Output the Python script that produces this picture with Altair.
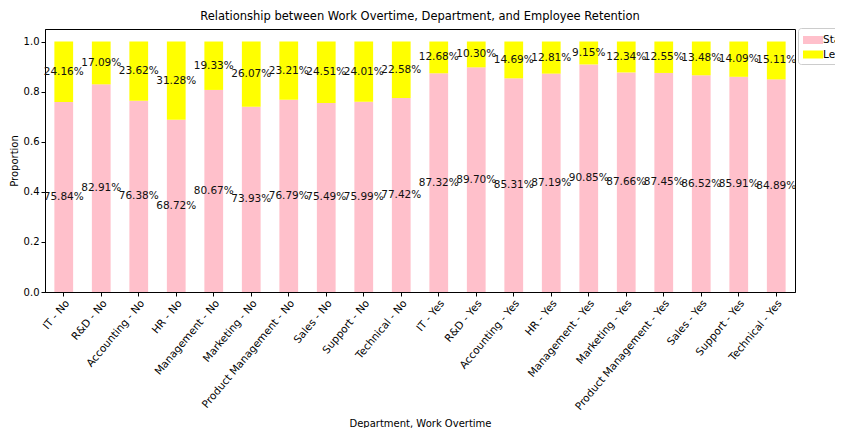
import altair as alt
import pandas as pd

departments = ["IT", "R&D", "Accounting", "HR", "Management", "Marketing",
               "Product Management", "Sales", "Support", "Technical"]
overtime = ["No", "Yes"]
statuses = ["Stayed", "Left"]
colors = ["#FFC0CB", "#FFFF00"]

# percentages, order: all "No" departments then all "Yes" departments
stayed = [75.84, 82.91, 76.38, 68.72, 80.67, 73.93, 76.79, 75.49, 75.99, 77.42,
          87.32, 89.70, 85.31, 87.19, 90.85, 87.66, 87.45, 86.52, 85.91, 84.89]
left = [24.16, 17.09, 23.62, 31.28, 19.33, 26.07, 23.21, 24.51, 24.01, 22.58,
        12.68, 10.30, 14.69, 12.81, 9.15, 12.34, 12.55, 13.48, 14.09, 15.11]

y_ticks = [0.0, 0.2, 0.4, 0.6, 0.8, 1.0]

cats = [f"{d} - {o}" for o in overtime for d in departments]
rows = []
for i, c in enumerate(cats):
    rows.append({"cat": c, "status": "Stayed", "value": stayed[i] / 100, "ord": 0})
    rows.append({"cat": c, "status": "Left", "value": left[i] / 100, "ord": 1})
df = pd.DataFrame(rows)

FONT = "DejaVu Sans"

base = alt.Chart(df).transform_stack(
    stack="value", groupby=["cat"], as_=["v0", "v1"],
    sort=[alt.SortField("ord", order="ascending")]
).transform_calculate(mid="(datum.v0 + datum.v1) / 2")

xenc = alt.X("cat:N", sort=cats, title="Department, Work Overtime",
             scale=alt.Scale(paddingInner=0.5, paddingOuter=0.25),
             axis=alt.Axis(labelAngle=-50, labelAlign="right", labelBaseline="top",
                           labelFontSize=10.5, labelPadding=2,
                           titleY=134, titleBaseline="alphabetic"))

bars = base.mark_bar().encode(
    x=xenc,
    y=alt.Y("v0:Q", title="Proportion",
            scale=alt.Scale(domain=[0, 1.05], nice=False, zero=True),
            axis=alt.Axis(values=y_ticks, format=".1f", grid=False, titlePadding=4)),
    y2="v1:Q",
    color=alt.Color("status:N", sort=statuses,
                    scale=alt.Scale(domain=statuses, range=colors),
                    legend=alt.Legend(title=None, orient="none", legendX=753, legendY=-1,
                                      symbolType="M-0.875,-0.5H1.625V0.5H-0.875Z",
                                      symbolSize=256,
                                      symbolStrokeWidth=0, symbolOpacity=1,
                                      labelFontSize=10.5, labelFont=FONT, labelColor="black",
                                      labelOffset=5, rowPadding=0.5, padding=4,
                                      fillColor="white", strokeColor="#cccccc",
                                      cornerRadius=3)),
    order=alt.Order("ord:Q"),
)

labels = base.mark_text(font=FONT, fontSize=10.5, color="#111111").encode(
    x=alt.X("cat:N", sort=cats),
    y=alt.Y("mid:Q"),
    text=alt.Text("value:Q", format=".2%"),
)

chart = alt.layer(bars, labels).properties(
    width=750, height=263,
    padding={"left": 37, "top": 21, "right": 40, "bottom": 136},
    autosize=alt.AutoSizeParams(type="none"),
    title=alt.TitleParams("Relationship between Work Overtime, Department, and Employee Retention",
                          font=FONT, fontSize=11.5, fontWeight="normal", offset=5, color="black"),
).configure_view(
    stroke="black", strokeWidth=1
).configure_axis(
    domainColor="black", tickColor="black", tickSize=4, labelColor="black",
    labelFont=FONT, labelFontSize=10, titleFont=FONT, titleFontSize=10,
    titleFontWeight="normal", titleColor="black", domain=True
)

chart.save("out.html", embed_options={"renderer": "svg", "actions": False})
